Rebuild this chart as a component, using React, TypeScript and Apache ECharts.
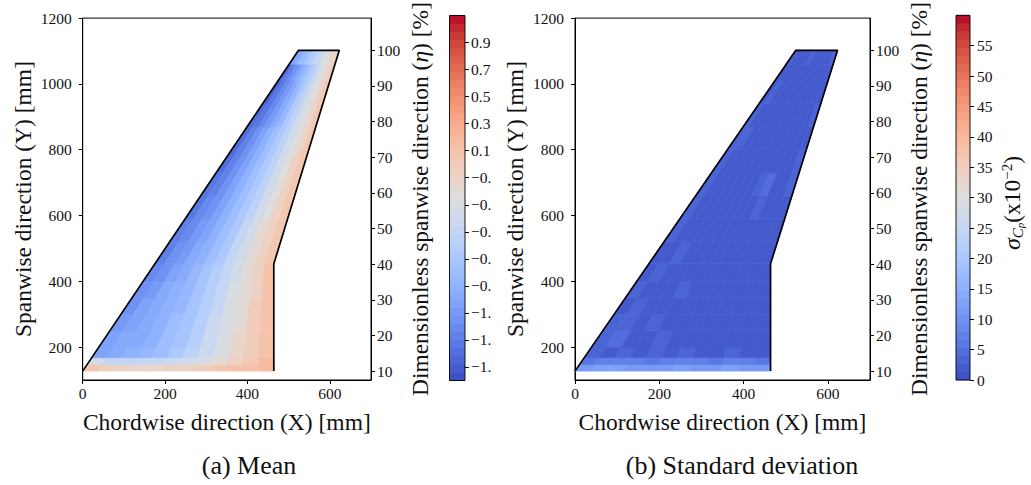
import React, { useEffect, useRef } from "react";
import * as echarts from "echarts";

// ---------- wing geometry (mm) ----------
const ROOT_Y = 127;
const TIP_Y = 1102;
const KINK_Y = 453;
const LE_TIP_X = 524;
const TE_ROOT_X = 464;
const TE_TIP_X = 623;
const outlineX = [0, LE_TIP_X, TE_TIP_X, TE_ROOT_X, TE_ROOT_X];
const outlineY = [ROOT_Y, TIP_Y, TIP_Y, KINK_Y, ROOT_Y];

// ---------- measurement cells ----------
const spanEdges = [127, 147, 168, 200, 250, 300, 350, 400, 453, 520, 590, 660, 730, 800, 870, 940, 1010, 1060, 1102];
const chordEdges = [0, 0.083, 0.167, 0.25, 0.333, 0.417, 0.5, 0.583, 0.667, 0.75, 0.833, 0.917, 1];

// mean Cp, rows root -> tip, columns leading edge -> trailing edge
const meanCp = [
  [0.02, -0.04, -0.08, -0.1, -0.1, -0.08, -0.05, -0.02, 0.03, 0.08, 0.12, 0.16],
  [-0.35, -0.48, -0.52, -0.52, -0.5, -0.46, -0.4, -0.3, -0.2, -0.06, 0.06, 0.16],
  [-1.02, -0.98, -0.94, -0.88, -0.8, -0.7, -0.58, -0.45, -0.3, -0.14, 0.0, 0.13],
  [-1.06, -1.0, -0.95, -0.89, -0.81, -0.71, -0.59, -0.46, -0.31, -0.16, -0.01, 0.12],
  [-1.1, -1.02, -0.96, -0.9, -0.82, -0.72, -0.6, -0.46, -0.32, -0.17, -0.02, 0.11],
  [-1.14, -1.05, -0.98, -0.91, -0.83, -0.73, -0.61, -0.47, -0.32, -0.17, -0.03, 0.1],
  [-1.18, -1.08, -1.0, -0.93, -0.85, -0.74, -0.62, -0.48, -0.33, -0.18, -0.04, 0.09],
  [-1.22, -1.12, -1.03, -0.95, -0.86, -0.75, -0.63, -0.49, -0.34, -0.19, -0.05, 0.08],
  [-1.28, -1.18, -1.08, -0.99, -0.89, -0.78, -0.65, -0.51, -0.36, -0.21, -0.07, 0.06],
  [-1.3, -1.21, -1.11, -1.01, -0.91, -0.79, -0.66, -0.52, -0.37, -0.22, -0.08, 0.05],
  [-1.32, -1.23, -1.13, -1.03, -0.92, -0.8, -0.67, -0.53, -0.38, -0.23, -0.08, 0.05],
  [-1.35, -1.25, -1.15, -1.04, -0.93, -0.81, -0.68, -0.53, -0.38, -0.23, -0.09, 0.04],
  [-1.38, -1.27, -1.16, -1.05, -0.94, -0.82, -0.68, -0.54, -0.39, -0.24, -0.09, 0.04],
  [-1.4, -1.29, -1.17, -1.06, -0.94, -0.82, -0.69, -0.54, -0.39, -0.24, -0.1, 0.03],
  [-1.42, -1.31, -1.19, -1.07, -0.95, -0.83, -0.69, -0.55, -0.4, -0.25, -0.1, 0.03],
  [-1.44, -1.32, -1.2, -1.08, -0.96, -0.83, -0.7, -0.55, -0.4, -0.25, -0.11, 0.02],
  [-1.38, -1.27, -1.16, -1.04, -0.93, -0.81, -0.68, -0.54, -0.4, -0.26, -0.12, 0.0],
  [-1.05, -0.96, -0.87, -0.78, -0.68, -0.59, -0.5, -0.41, -0.32, -0.23, -0.14, -0.06],
];

// standard deviation of Cp (x10^-2)
const stdCp = [
  [11.5, 12, 12, 11.5, 11, 11.5, 12, 11, 11.5, 12, 11, 11.5],
  [6.5, 7, 7.5, 7, 6.5, 7, 7.5, 7, 6.5, 7, 7, 6.5],
  [3.2, 2.4, 3.4, 2.4, 3.1, 2.3, 3.3, 2.4, 2.3, 3.0, 2.3, 2.2],
  [3.5, 4.6, 2.4, 2.3, 3.2, 2.2, 2.4, 2.3, 2.2, 2.4, 2.3, 2.1],
  [2.9, 3.4, 2.4, 3.1, 2.3, 2.5, 2.2, 2.4, 2.2, 2.3, 2.1, 2.2],
  [2.4, 3.1, 2.3, 2.5, 2.2, 2.4, 2.1, 2.3, 2.2, 2.2, 2.1, 2.0],
  [3.1, 2.4, 2.5, 2.3, 2.9, 2.2, 2.4, 2.1, 2.3, 2.2, 2.0, 2.1],
  [2.5, 3.2, 2.3, 2.4, 2.2, 2.5, 2.2, 2.2, 2.1, 2.2, 2.2, 2.0],
  [2.6, 2.4, 3.1, 2.3, 2.4, 2.2, 2.3, 2.2, 2.2, 2.1, 2.2, 2.4],
  [3.2, 2.5, 2.3, 2.6, 2.2, 2.4, 2.2, 2.3, 2.2, 2.2, 2.1, 2.5],
  [3.4, 2.6, 2.4, 2.3, 2.5, 2.2, 2.4, 2.2, 3.3, 2.2, 2.2, 2.6],
  [2.7, 2.4, 2.6, 2.2, 2.3, 2.5, 2.2, 3.1, 4.4, 2.3, 2.2, 3.1],
  [3.6, 2.6, 2.3, 2.5, 2.2, 2.4, 2.2, 2.3, 2.5, 2.2, 2.3, 3.2],
  [3.4, 2.7, 2.4, 2.2, 2.5, 2.3, 2.2, 2.4, 2.2, 2.3, 2.4, 2.6],
  [2.8, 2.5, 2.6, 2.3, 2.2, 2.4, 2.2, 2.2, 2.3, 2.2, 2.3, 3.1],
  [2.6, 2.7, 2.4, 2.5, 2.3, 2.2, 2.4, 2.2, 2.2, 2.3, 2.2, 2.5],
  [2.5, 2.4, 2.6, 2.3, 2.4, 2.2, 2.3, 2.5, 2.2, 2.4, 2.3, 2.6],
  [2.7, 2.6, 2.4, 2.6, 2.5, 2.7, 2.4, 2.6, 2.5, 2.6, 2.4, 2.8],
];

// ---------- axes ----------
const xTicks = [0, 200, 400, 600];
const yTicks = [200, 400, 600, 800, 1000, 1200];
const etaTicks = [10, 20, 30, 40, 50, 60, 70, 80, 90, 100];
const meanTicks = [0.9, 0.7, 0.5, 0.3, 0.1, -0.1, -0.3, -0.5, -0.7, -0.9, -1.1, -1.3, -1.5];
const stdTicks = [0, 5, 10, 15, 20, 25, 30, 35, 40, 45, 50, 55];
const MEAN_MIN = -1.6;
const MEAN_MAX = 1.1;
const STD_MIN = 0;
const STD_MAX = 60;
const LEVELS = 45;
const Y_MIN = 100;
const Y_MAX = 1200;
const ETA_MIN = 10 + (90 * (Y_MIN - ROOT_Y)) / (TIP_Y - ROOT_Y);
const ETA_MAX = 10 + (90 * (Y_MAX - ROOT_Y)) / (TIP_Y - ROOT_Y);

// matplotlib "coolwarm"
const COOLWARM = [
  [59, 76, 192], [68, 90, 204], [77, 104, 215], [87, 117, 225], [98, 130, 234], [108, 142, 241],
  [119, 154, 247], [130, 165, 251], [141, 176, 254], [152, 185, 255], [163, 194, 255], [174, 201, 253],
  [184, 208, 249], [194, 213, 244], [204, 217, 238], [213, 219, 230], [221, 221, 221], [229, 216, 209],
  [236, 211, 197], [241, 204, 185], [245, 196, 173], [247, 187, 160], [247, 177, 148], [247, 166, 135],
  [244, 154, 123], [241, 141, 111], [236, 127, 99], [229, 112, 88], [222, 96, 77], [213, 80, 66],
  [203, 62, 56], [192, 40, 47], [180, 4, 38],
];

function cmap(t: number): string {
  const tt = Math.max(0, Math.min(1, t));
  const p = tt * (COOLWARM.length - 1);
  const i = Math.min(COOLWARM.length - 2, Math.floor(p));
  const f = p - i;
  const a = COOLWARM[i];
  const b = COOLWARM[i + 1];
  const c = a.map((v, k) => Math.round(v + (b[k] - v) * f));
  return `rgb(${c[0]},${c[1]},${c[2]})`;
}
function levelColor(v: number, vmin: number, vmax: number): string {
  let k = Math.floor(((v - vmin) / (vmax - vmin)) * LEVELS);
  k = Math.max(0, Math.min(LEVELS - 1, k));
  return cmap((k + 0.5) / LEVELS);
}

function leX(y: number) {
  return (LE_TIP_X * (y - ROOT_Y)) / (TIP_Y - ROOT_Y);
}
function teX(y: number) {
  if (y <= KINK_Y) return TE_ROOT_X;
  return TE_ROOT_X + ((TE_TIP_X - TE_ROOT_X) * (y - KINK_Y)) / (TIP_Y - KINK_Y);
}
function chordPoint(y: number, xi: number): [number, number] {
  const a = leX(y);
  const b = teX(y);
  return [a + xi * (b - a), y];
}

const FONT = "Liberation Serif";
const TXT = "#111";
const TICK_FS = 15.5;
const TITLE_FS = 23.5;

function cellData(table: number[][]) {
  const out: number[][] = [];
  table.forEach((row, r) => row.forEach((v, c) => out.push([r, c, v])));
  return out;
}

function fieldSeries(table: number[][], xAxisIndex: number, yAxisIndex: number, vmin: number, vmax: number) {
  return {
    type: "custom",
    coordinateSystem: "cartesian2d",
    xAxisIndex,
    yAxisIndex,
    silent: true,
    z: 1,
    data: cellData(table),
    renderItem: (params: any, api: any) => {
      const r = api.value(0);
      const c = api.value(1);
      const v = api.value(2);
      const y0 = spanEdges[r];
      const y1 = spanEdges[r + 1];
      const x0 = chordEdges[c];
      const x1 = chordEdges[c + 1];
      const pts = [chordPoint(y0, x0), chordPoint(y0, x1), chordPoint(y1, x1), chordPoint(y1, x0)].map((p) =>
        api.coord(p)
      );
      const col = levelColor(v, vmin, vmax);
      return {
        type: "polygon",
        shape: { points: pts },
        style: { fill: col, stroke: col, lineWidth: 0.7 },
      };
    },
  };
}

function colorbarSeries(xAxisIndex: number, yAxisIndex: number, vmin: number, vmax: number) {
  const bands: number[][] = [];
  for (let k = 0; k < LEVELS; k++) bands.push([k]);
  return {
    type: "custom",
    coordinateSystem: "cartesian2d",
    xAxisIndex,
    yAxisIndex,
    silent: true,
    z: 2,
    data: bands,
    renderItem: (params: any, api: any) => {
      const k = api.value(0);
      const step = (vmax - vmin) / LEVELS;
      const lo = vmin + k * step;
      const hi = lo + step;
      const p1 = api.coord([0, hi]);
      const p2 = api.coord([1, lo]);
      const children: any[] = [
        {
          type: "rect",
          shape: { x: p1[0], y: p1[1] - 0.3, width: p2[0] - p1[0], height: p2[1] - p1[1] + 0.6 },
          style: { fill: cmap((k + 0.5) / LEVELS) },
        },
      ];
      if (k === LEVELS - 1) {
        const a = api.coord([0, vmax]);
        const b = api.coord([1, vmin]);
        children.push({
          type: "rect",
          z2: 10,
          shape: { x: a[0], y: a[1], width: b[0] - a[0], height: b[1] - a[1] },
          style: { fill: "none", stroke: "#000", lineWidth: 0.9 },
        });
      }
      return { type: "group", children };
    },
  };
}

function outlineSeries(xAxisIndex: number, yAxisIndex: number) {
  return {
    type: "line",
    xAxisIndex,
    yAxisIndex,
    silent: true,
    z: 5,
    symbol: "none",
    lineStyle: { color: "#000", width: 1.7 },
    data: outlineX.map((x, i) => [x, outlineY[i]]),
  };
}

const axisLineStyle = { show: true, onZero: false, lineStyle: { color: "#000", width: 1 } };
const plain = (v: number) => String(v);

function xMain(gridIndex: number) {
  return {
    gridIndex,
    type: "value",
    min: 0,
    max: 700,
    name: "Chordwise direction (X) [mm]",
    nameLocation: "middle",
    nameGap: 30,
    nameTextStyle: { fontSize: TITLE_FS, color: TXT, fontFamily: FONT },
    axisLine: axisLineStyle,
    axisTick: { show: true, length: 4, customValues: xTicks, lineStyle: { color: "#000" } },
    axisLabel: { customValues: xTicks, formatter: plain, fontSize: TICK_FS, color: TXT, fontFamily: FONT, margin: 5 },
    splitLine: { show: false },
  };
}
function xHidden(gridIndex: number) {
  return { gridIndex, type: "value", min: 0, max: 1, show: false, splitLine: { show: false } };
}
function yMain(gridIndex: number) {
  return {
    gridIndex,
    type: "value",
    position: "left",
    min: Y_MIN,
    max: Y_MAX,
    name: "Spanwise direction (Y) [mm]",
    nameLocation: "middle",
    nameGap: 48,
    nameRotate: 90,
    nameTextStyle: { fontSize: TITLE_FS, color: TXT, fontFamily: FONT },
    axisLine: axisLineStyle,
    axisTick: { show: true, length: 4, customValues: yTicks, lineStyle: { color: "#000" } },
    axisLabel: { customValues: yTicks, formatter: plain, fontSize: TICK_FS, color: TXT, fontFamily: FONT, margin: 11 },
    splitLine: { show: false },
  };
}
function yEta(gridIndex: number) {
  return {
    gridIndex,
    type: "value",
    position: "right",
    min: ETA_MIN,
    max: ETA_MAX,
    name: "Dimensionless spanwise direction ({it|η}) [%]",
    nameLocation: "middle",
    nameGap: 37,
    nameRotate: 90,
    nameTextStyle: {
      fontSize: TITLE_FS,
      color: TXT,
      fontFamily: FONT,
      rich: { it: { fontSize: TITLE_FS, fontStyle: "italic", color: TXT, fontFamily: FONT } },
    },
    axisLine: axisLineStyle,
    axisTick: { show: true, length: 4, customValues: etaTicks, lineStyle: { color: "#000" } },
    axisLabel: { customValues: etaTicks, formatter: plain, fontSize: TICK_FS, color: TXT, fontFamily: FONT, margin: 6 },
    splitLine: { show: false },
  };
}
function fmtSigned(v: number) {
  return (v < 0 ? "\u2212" : "") + Math.abs(v).toFixed(1);
}

const option: any = {
  animation: false,
  backgroundColor: "#fff",
  textStyle: { fontFamily: FONT },
  grid: [
    { left: 82.7, top: 15.3, width: 288.3, height: 364.7, show: true, borderColor: "#000", borderWidth: 1, backgroundColor: "transparent" },
    { left: 449.5, top: 15.5, width: 15.5, height: 365, show: false },
    { left: 575, top: 15.3, width: 295, height: 364.7, show: true, borderColor: "#000", borderWidth: 1, backgroundColor: "transparent" },
    { left: 956, top: 15.3, width: 14, height: 364.7, show: false },
  ],
  xAxis: [xMain(0), xHidden(1), xMain(2), xHidden(3)],
  yAxis: [
    yMain(0),
    yEta(0),
    {
      gridIndex: 1,
      type: "value",
      position: "right",
      min: MEAN_MIN,
      max: MEAN_MAX,
      axisLine: { show: false, onZero: false },
      axisTick: { show: true, length: 4, customValues: meanTicks, lineStyle: { color: "#000" } },
      axisLabel: {
        customValues: meanTicks,
        formatter: (v: number) => fmtSigned(v),
        fontSize: TICK_FS,
        color: TXT,
        fontFamily: FONT,
        margin: 6,
        width: 25,
        overflow: "truncate",
        ellipsis: "",
      },
      splitLine: { show: false },
    },
    yMain(2),
    yEta(2),
    {
      gridIndex: 3,
      type: "value",
      position: "right",
      min: STD_MIN,
      max: STD_MAX,
      axisLine: { show: false, onZero: false },
      axisTick: { show: true, length: 4, customValues: stdTicks, lineStyle: { color: "#000" } },
      axisLabel: { customValues: stdTicks, formatter: plain, fontSize: TICK_FS, color: TXT, fontFamily: FONT, margin: 7 },
      splitLine: { show: false },
    },
  ],
  series: [
    fieldSeries(meanCp, 0, 0, MEAN_MIN, MEAN_MAX),
    outlineSeries(0, 0),
    colorbarSeries(1, 2, MEAN_MIN, MEAN_MAX),
    fieldSeries(stdCp, 2, 3, STD_MIN, STD_MAX),
    outlineSeries(2, 3),
    colorbarSeries(3, 5, STD_MIN, STD_MAX),
  ],
  graphic: [
    {
      type: "text",
      x: 1012,
      y: 203,
      rotation: Math.PI / 2,
      style: {
        text: "{s|σ}{c|C}{p|p}{n|(x10}{e|−2}{n|)}",
        align: "center",
        verticalAlign: "middle",
        fill: TXT,
        rich: {
          s: { fontSize: 24, fontStyle: "italic", fontFamily: FONT, fill: TXT, lineHeight: 26, verticalAlign: "middle" },
          c: { fontSize: 15, fontStyle: "italic", fontFamily: FONT, fill: TXT, lineHeight: 14, verticalAlign: "bottom" },
          p: { fontSize: 11, fontStyle: "italic", fontFamily: FONT, fill: TXT, lineHeight: 8, verticalAlign: "bottom" },
          n: { fontSize: TITLE_FS, fontFamily: FONT, fill: TXT, lineHeight: 26, verticalAlign: "middle" },
          e: { fontSize: 15, fontFamily: FONT, fill: TXT, lineHeight: 14, verticalAlign: "top" },
        },
      },
    },
    {
      type: "text",
      x: 249,
      y: 465,
      style: { text: "(a) Mean", fontSize: 26, fontFamily: FONT, fill: TXT, align: "center", verticalAlign: "middle" },
    },
    {
      type: "text",
      x: 742,
      y: 465,
      style: { text: "(b) Standard deviation", fontSize: 26, fontFamily: FONT, fill: TXT, align: "center", verticalAlign: "middle" },
    },
  ],
};

export default function App() {
  const ref = useRef<HTMLDivElement>(null);
  useEffect(() => {
    if (!ref.current) return;
    const chart = echarts.init(ref.current, undefined, { renderer: "svg" });
    chart.setOption(option);
    return () => chart.dispose();
  }, []);
  return (
    <div
      ref={ref}
      style={{ position: "fixed", left: 0, top: 0, width: 1031, height: 485, background: "#fff" }}
    />
  );
}
